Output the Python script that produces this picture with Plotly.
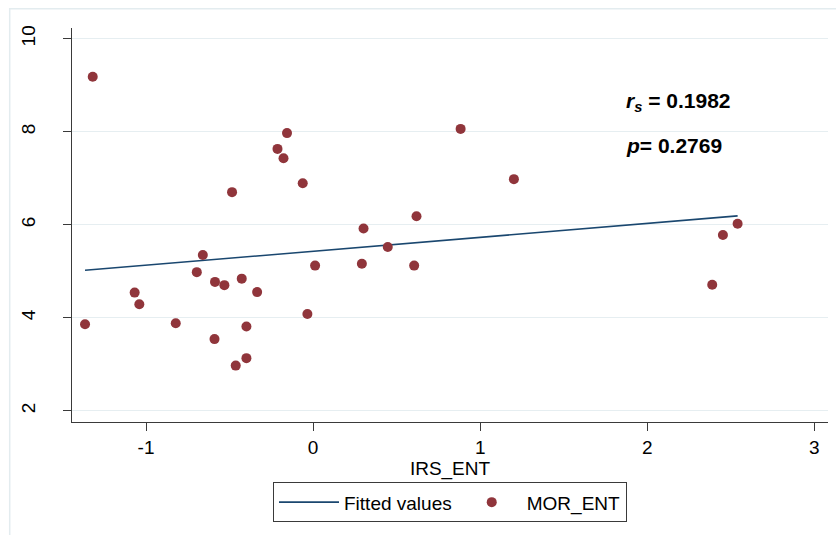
import plotly.graph_objects as go

# IRS_ENT (x) and MOR_ENT (y) observations
irs_ent = [-1.319, -0.156, -0.213, -0.177, -0.062, -0.485, 0.302, 0.447, 0.619, -0.660,
           0.883, 1.202, 2.541, 2.453, -1.365, -1.068, -1.040, -0.822, -0.696, -0.587,
           -0.531, -0.427, -0.335, -0.590, -0.399, -0.399, -0.463, -0.034, 0.012, 0.292,
           0.605, 2.389]
mor_ent = [9.18, 7.97, 7.63, 7.43, 6.89, 6.70, 5.92, 5.52, 6.18, 5.35,
           8.06, 6.98, 6.02, 5.78, 3.86, 4.54, 4.29, 3.88, 4.98, 4.77,
           4.70, 4.84, 4.55, 3.54, 3.81, 3.13, 2.97, 4.08, 5.12, 5.16,
           5.12, 4.71]

# Linear fit endpoints
fit_x = [-1.365, 2.541]
fit_y = [5.02, 6.19]

x_ticks = [-1, 0, 1, 2, 3]
y_ticks = [2, 4, 6, 8, 10]

FONT = "Arial, Liberation Sans, sans-serif"
GRID = "#e6eef1"
AXIS = "#3a3a3a"
FS = 19

fig = go.Figure()
fig.add_trace(go.Scatter(
    x=fit_x, y=fit_y, mode="lines", name="Fitted values",
    line=dict(color="#1a476f", width=1.6),
))
fig.add_trace(go.Scatter(
    x=irs_ent, y=mor_ent, mode="markers", name="MOR_ENT",
    marker=dict(color="#90353b", size=10, line=dict(width=0)),
))

fig.update_layout(
    width=836, height=535,
    margin=dict(l=72, r=8, t=28, b=113),
    paper_bgcolor="white", plot_bgcolor="white",
    font=dict(family=FONT, size=FS, color="#000"),
    showlegend=True,
    legend=dict(
        orientation="h", x=0.5, xanchor="center", y=-0.153, yanchor="top",
        bordercolor="#3a3a3a", borderwidth=1, bgcolor="white",
        font=dict(family=FONT, size=FS), itemwidth=60,
    ),
    xaxis=dict(
        range=[-1.443, 3.082], tickvals=x_ticks, ticktext=[str(v) for v in x_ticks],
        showgrid=False, zeroline=False,
        showline=True, linecolor=AXIS, linewidth=1,
        ticks="outside", ticklen=8, tickcolor=AXIS,
        title=dict(text="IRS_ENT", standoff=0, font=dict(size=FS)),
        tickfont=dict(size=FS),
    ),
    yaxis=dict(
        range=[1.757, 10.23], tickvals=y_ticks, ticktext=[str(v) for v in y_ticks],
        showgrid=True, gridcolor=GRID, gridwidth=1, zeroline=False,
        showline=True, linecolor=AXIS, linewidth=1,
        ticks="outside", ticklen=8, tickcolor=AXIS,
        tickangle=-90, tickfont=dict(size=FS), ticklabelstandoff=20,
    ),
    shapes=[dict(
        type="rect", xref="paper", yref="paper",
        x0=-0.0824, x1=1.2, y0=-0.5, y1=1.049,
        line=dict(color="#e3ecef", width=1.5), fillcolor="rgba(0,0,0,0)", layer="below",
    )],
    annotations=[
        dict(x=1.86, y=8.645, xref="x", yref="y", xanchor="left", yanchor="middle",
             text="<b><i>r</i><sub><i>s</i></sub> = 0.1982</b>", showarrow=False,
             font=dict(family=FONT, size=21, color="#000")),
        dict(x=1.86, y=7.70, xref="x", yref="y", xanchor="left", yanchor="middle",
             text="<b><i>p</i>= 0.2769</b>", showarrow=False,
             font=dict(family=FONT, size=21, color="#000")),
    ],
)

fig.write_html("out.html")
